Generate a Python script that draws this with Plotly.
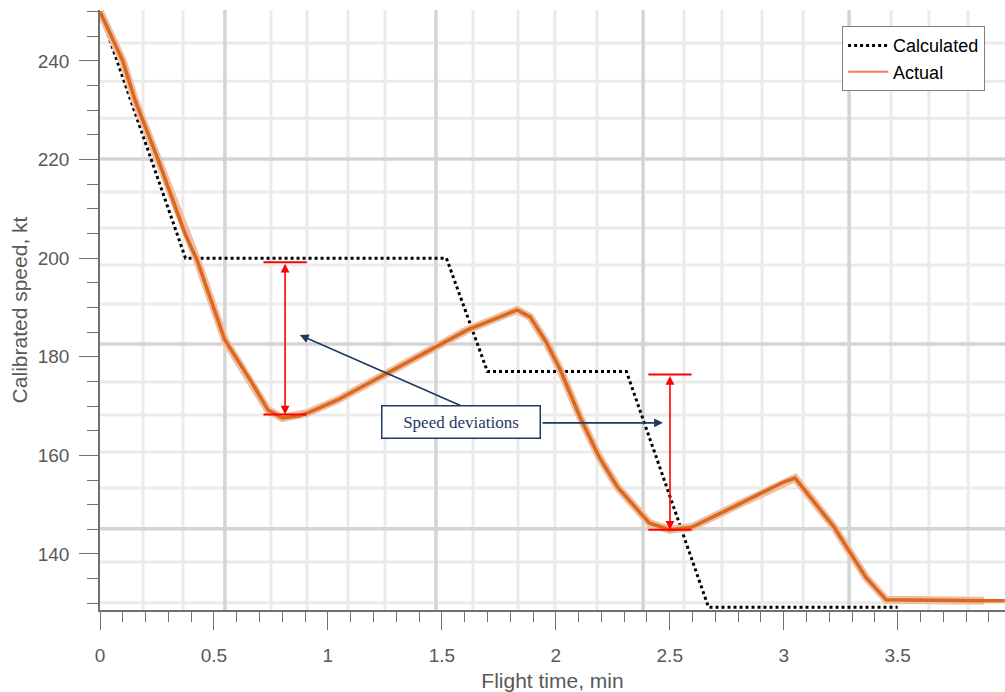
import plotly.graph_objects as go

# Calculated (planned) speed profile, min / kt
calc_t = [0.0, 0.375, 1.52, 1.70, 2.31, 2.67, 3.50]
calc_v = [250, 200, 200, 177, 177, 129.2, 129.2]

# Actual recorded speed, min / kt
act_t = [0.0, 0.10, 0.154, 0.255, 0.373, 0.426, 0.548, 0.667, 0.737, 0.80, 0.87,
         0.91, 1.04, 1.229, 1.448, 1.61, 1.83, 1.887, 1.96, 2.02, 2.106, 2.19,
         2.27, 2.41, 2.50, 2.60, 2.80, 3.00, 3.05, 3.22, 3.36, 3.45, 3.88, 3.97]
act_v = [250, 240, 232, 220, 205, 199.6, 183.4, 174.7, 169.2, 167.6, 168.0,
         168.6, 171.2, 175.9, 181.4, 185.4, 189.5, 188.1, 182.8, 177.3, 167.8, 159.7,
         153.6, 146.3, 144.9, 145.5, 150.0, 154.6, 155.4, 145.5, 135.3, 130.7, 130.5, 130.5]

# Deviation markers: (time, upper speed, lower speed, cap half-width)
dev_t = [0.812, 2.501]
dev_hi = [199.2, 176.4]
dev_lo = [168.3, 144.9]
cap_half = 0.095

# Background grid positions
grid_x_light = [0.189, 0.364, 0.750, 0.908, 1.088, 1.251, 1.637, 1.834, 1.996, 2.181,
                2.562, 2.729, 2.905, 3.085, 3.471, 3.637, 3.809]
grid_x_dark = [0.548, 1.474, 2.383, 3.287]
grid_y_light = [243.65, 235.9, 228.4, 213.4, 206.1, 198.6, 190.7, 174.9, 168.2,
                160.7, 153.4, 138.4, 130.1]
grid_y_dark = [220.1, 182.6, 145.1]

LIGHT = "#ebebeb"
DARK = "#d4d4d4"
NAVY = "#1f3864"
AX = "#707070"
FONT = "Arial, Liberation Sans, sans-serif"

fig = go.Figure()

fig.add_trace(go.Scatter(x=calc_t, y=calc_v, mode="lines", name="Calculated",
                         line=dict(color="black", width=3, dash="dot")))
# orange trace: soft halo + darker core
fig.add_trace(go.Scatter(x=act_t[:-1], y=act_v[:-1], mode="lines", showlegend=False,
                         line=dict(color="#efbea3", width=8), hoverinfo="skip"))
fig.add_trace(go.Scatter(x=act_t, y=act_v, mode="lines", showlegend=False,
                         line=dict(color="#d8691f", width=3.5)))
fig.add_trace(go.Scatter(x=[None], y=[None], mode="lines", name="Actual",
                         line=dict(color="#f07d4f", width=2)))

shapes = []
for gx in grid_x_light:
    shapes.append(dict(type="line", xref="x", yref="paper", x0=gx, x1=gx, y0=0, y1=1,
                       line=dict(color=LIGHT, width=3), layer="below"))
for gy in grid_y_light:
    shapes.append(dict(type="line", xref="paper", yref="y", x0=0, x1=1, y0=gy, y1=gy,
                       line=dict(color=LIGHT, width=3), layer="below"))
for gx in grid_x_dark:
    shapes.append(dict(type="line", xref="x", yref="paper", x0=gx, x1=gx, y0=0, y1=1,
                       line=dict(color=DARK, width=3.5), layer="below"))
for gy in grid_y_dark:
    shapes.append(dict(type="line", xref="paper", yref="y", x0=0, x1=1, y0=gy, y1=gy,
                       line=dict(color=DARK, width=3.5), layer="below"))

annotations = []
for t, hi, lo in zip(dev_t, dev_hi, dev_lo):
    for v in (hi, lo):
        shapes.append(dict(type="line", xref="x", yref="y", x0=t - cap_half, x1=t + cap_half,
                           y0=v, y1=v, line=dict(color="red", width=2), layer="above"))
    annotations.append(dict(x=t, y=lo, ax=t, ay=hi, xref="x", yref="y", axref="x", ayref="y",
                            text="", showarrow=True, arrowside="end+start", arrowhead=2,
                            startarrowhead=2, arrowsize=1.1, startarrowsize=1.1,
                            arrowwidth=1.6, arrowcolor="red", standoff=0, startstandoff=0))

# label box and pointers
annotations.append(dict(x=1.584, y=166.7, xref="x", yref="y", text="Speed deviations",
                        showarrow=False, font=dict(family="Liberation Serif, Times New Roman, serif",
                                                   size=17, color=NAVY),
                        bgcolor="white", bordercolor=NAVY, borderwidth=1.5,
                        width=155, height=29, borderpad=1))
annotations.append(dict(x=0.877, y=184.4, ax=1.588, ay=170.0, xref="x", yref="y",
                        axref="x", ayref="y", text="", showarrow=True, arrowhead=2,
                        arrowsize=1.1, arrowwidth=1.6, arrowcolor=NAVY, standoff=0))
annotations.append(dict(x=2.470, y=166.6, ax=1.935, ay=166.6, xref="x", yref="y",
                        axref="x", ayref="y", text="", showarrow=True, arrowhead=2,
                        arrowsize=1.1, arrowwidth=1.6, arrowcolor=NAVY, standoff=0))

fig.update_layout(
    width=1005, height=692,
    margin=dict(l=100, r=0, t=10, b=82),
    plot_bgcolor="white", paper_bgcolor="white",
    font=dict(family=FONT, size=18, color="#595959"),
    shapes=shapes, annotations=annotations,
    legend=dict(x=0.82, y=0.973, xanchor="left", yanchor="top",
                bgcolor="white", bordercolor="#808080", borderwidth=1,
                font=dict(family=FONT, size=18, color="black"),
                tracegroupgap=0, itemwidth=40),
)

fig.update_xaxes(
    range=[0, 3.971], showgrid=False, zeroline=False,
    showline=True, linecolor=AX, linewidth=1.5,
    ticks="outside", ticklen=18, tickwidth=1.2, tickcolor=AX,
    tick0=0, dtick=0.5, ticklabelstandoff=9,
    tickfont=dict(size=19),
    minor=dict(ticks="outside", ticklen=10, dtick=0.1, tickcolor=AX, tickwidth=1, showgrid=False),
    title=dict(text="Flight time, min", font=dict(size=21, color="#595959"), standoff=12),
)
fig.update_yaxes(
    range=[128.64, 250.34], showgrid=False, zeroline=False,
    showline=True, linecolor=AX, linewidth=1.5,
    ticks="outside", ticklen=19, tickwidth=1.2, tickcolor=AX,
    tick0=0, dtick=20, ticklabelstandoff=6,
    tickfont=dict(size=19),
    minor=dict(ticks="outside", ticklen=11, dtick=5, tickcolor=AX, tickwidth=1, showgrid=False),
    title=dict(text="Calibrated speed, kt", font=dict(size=21, color="#595959"), standoff=4),
)

fig.write_html("out.html")
